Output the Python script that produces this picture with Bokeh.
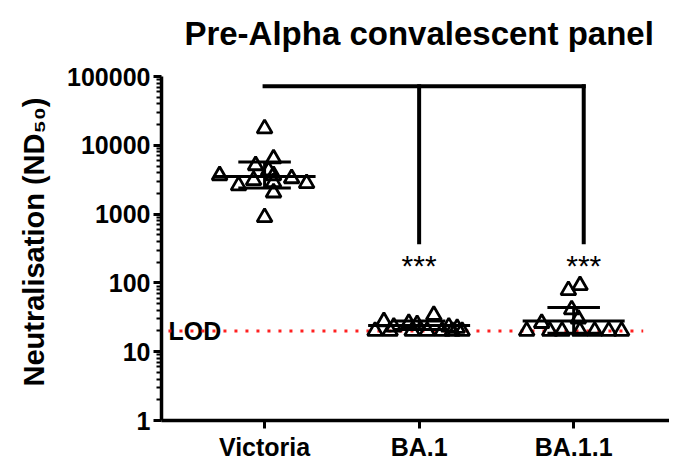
from bokeh.plotting import figure
from bokeh.models import FixedTicker, PrintfTickFormatter, Title
from bokeh.core.properties import value
from bokeh.embed import file_html
from bokeh.resources import INLINE

# ---------------- data ----------------
categories = ["Victoria", "BA.1", "BA.1.1"]
title_text = "Pre-Alpha convalescent panel"
y_label = "Neutralisation (ND\u2085\u2080)"

victoria_vals = [17500, 6400, 5100, 4300, 3650, 3650, 3100, 3300, 2900, 2600, 2800, 2050, 900]
victoria_offset = [0.0, 0.058, -0.058, 0.026, -0.291, 0.058, -0.071, 0.175, 0.058, -0.168, 0.272, 0.058, 0.0]

ba1_vals = [27.5, 23, 26, 25, 34, 23, 22, 20, 20, 20, 20, 20, 20, 20]
ba1_offset = [-0.228, -0.164, -0.067, -0.013, 0.095, 0.192, 0.246, -0.285, -0.188, -0.045, 0.052, 0.149, 0.214, 0.278]

ba11_vals = [78, 92, 41, 30, 26, 20, 20, 20, 20, 20, 20, 20]
ba11_offset = [-0.034, 0.041, -0.013, 0.03, -0.207, -0.304, -0.155, -0.075, 0.04, 0.136, 0.227, 0.31]

# summary (geometric mean with error bars)
summary_mean = [3520, 24, 28]
summary_low = [2400, 21, 18.5]
summary_high = [5700, 28, 44]

LOD = 20
y_ticks = [1, 10, 100, 1000, 10000, 100000]
bracket_top = 72000
bracket_bottom = 390
bracket_x = [1.0, 2.0, 3.065]
star_y = 180
title_y = 420000

# ---------------- figure ----------------
FONT = "Liberation Sans"
y_top = 10 ** (5 + 76 / 68.8)   # extra room above the axis for the title
p = figure(
    x_range=(0.333, 3.62), y_range=(1, y_top), y_axis_type="log",
    frame_width=508, frame_height=420,
    min_border_left=160, min_border_right=0, min_border_top=0, min_border_bottom=36,
    output_backend="svg", toolbar_location=None,
)
p.outline_line_color = None
p.xgrid.visible = False
p.ygrid.visible = False
p.background_fill_color = "white"
p.border_fill_color = "white"

# axes
for ax in (p.xaxis[0], p.yaxis[0]):
    ax.axis_line_width = 3.5
    ax.axis_line_color = "black"
    ax.major_tick_line_width = 3
    ax.major_tick_line_color = "black"
    ax.major_tick_in = 0
    ax.major_tick_out = 8
    ax.major_label_text_font = FONT
    ax.major_label_text_font_size = "25px"
    ax.major_label_text_font_style = "bold"
    ax.major_label_text_color = "black"

minor = [m * 10 ** k for k in range(5) for m in range(2, 10)]
p.yaxis.bounds = (1, 100000)
p.yaxis.ticker = FixedTicker(ticks=y_ticks, minor_ticks=minor)
p.yaxis.formatter = PrintfTickFormatter(format="%d")
p.yaxis.minor_tick_in = 0
p.yaxis.minor_tick_out = 5
p.yaxis.minor_tick_line_width = 2
p.yaxis.minor_tick_line_color = "black"
p.yaxis.major_label_standoff = 3

# y-axis label as a side title so it can be centred on the axis span
p.add_layout(Title(text=y_label, align="left", offset=34, vertical_align="bottom",
                   standoff=30, text_font=FONT, text_font_size="29px",
                   text_font_style="bold", text_color="black"), "left")

p.xaxis.ticker = FixedTicker(ticks=[1, 2, 3])
p.xaxis.major_label_overrides = {i + 1: c for i, c in enumerate(categories)}
p.xaxis.minor_tick_line_color = None
p.xaxis.major_label_standoff = 4

# title (drawn in the space above the axis)
p.text(x=[2.0], y=[title_y], text=[title_text], text_font=value(FONT), text_font_size="33px",
       text_font_style="bold", text_color="black", text_align="center",
       text_baseline="alphabetic")

# LOD label (under dots)
p.text(x=[0.378], y=[LOD], text=["LOD"], text_font=value(FONT), text_font_size="25px",
       text_font_style="bold", text_color="black", text_baseline="middle", text_align="left")

# LOD dotted line
p.line(x=[0.378, 3.45], y=[LOD, LOD], line_color="#ff2020", line_width=3, line_dash="3 8")

# points
groups = [victoria_vals, ba1_vals, ba11_vals]
offsets = [victoria_offset, ba1_offset, ba11_offset]
for i, (vals, offs) in enumerate(zip(groups, offsets)):
    xs = [i + 1 + o for o in offs]
    p.scatter(xs, vals, marker="triangle", size=15, line_color="black", line_width=2.8,
              fill_alpha=0)

# summary lines
for i in range(3):
    c = i + 1
    p.segment(x0=[c - 0.33], x1=[c + 0.33], y0=[summary_mean[i]], y1=[summary_mean[i]],
              line_color="black", line_width=3)
    p.segment(x0=[c - 0.17, c - 0.17], x1=[c + 0.17, c + 0.17],
              y0=[summary_low[i], summary_high[i]], y1=[summary_low[i], summary_high[i]],
              line_color="black", line_width=3)
    p.segment(x0=[c], x1=[c], y0=[summary_low[i]], y1=[summary_high[i]],
              line_color="black", line_width=3)

# significance bracket
p.segment(x0=[bracket_x[0], bracket_x[1], bracket_x[2]],
          x1=[bracket_x[2], bracket_x[1], bracket_x[2]],
          y0=[bracket_top, bracket_top, bracket_top],
          y1=[bracket_top, bracket_bottom, bracket_bottom],
          line_color="black", line_width=4, line_cap="square")
p.text(x=bracket_x[1:], y=[star_y, star_y], text=["***", "***"], text_font=value(FONT),
       text_font_size="30px", text_color="black", text_align="center",
       text_baseline="alphabetic")

open("out.html", "w").write(file_html(p, INLINE))
